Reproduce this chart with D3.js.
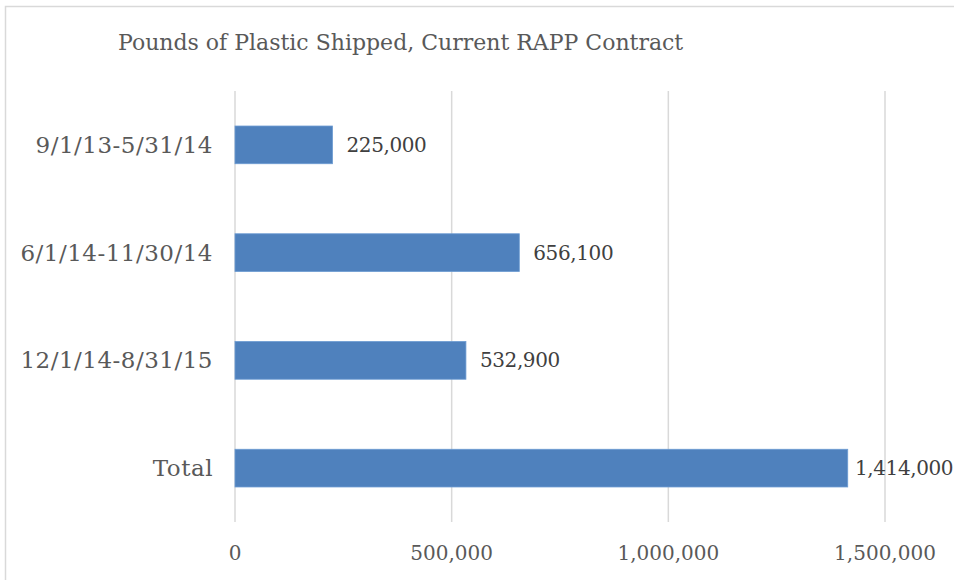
<!DOCTYPE html>
<html><head><meta charset="utf-8">
<script src="https://cdn.jsdelivr.net/npm/d3@7"></script>
<style>body{margin:0;background:#fff}svg{display:block}</style>
</head><body>
<svg id="c" width="954" height="580"></svg>
<script>
const categories = ["9/1/13-5/31/14", "6/1/14-11/30/14", "12/1/14-8/31/15", "Total"];
const values = [225000, 656100, 532900, 1414000];
const tickValues = [0, 500000, 1000000, 1500000];
const title = "Pounds of Plastic Shipped, Current RAPP Contract";

const svg = d3.select("#c");
const font = "'DejaVu Serif', serif";
const W = 954, H = 580;

// frame
svg.append("path").attr("d", `M5.5,${H}V6.5H${W}`).attr("fill","none").attr("stroke","#d9d9d9").attr("stroke-width",1.5);

const x = d3.scaleLinear().domain([0, 1500000]).range([235, 885]);
const y = d3.scaleBand().domain(categories).range([91, 522]).paddingInner(0.65).paddingOuter(0.325);

// gridlines
svg.append("g").selectAll("line").data(tickValues).join("line")
  .attr("x1", d => x(d)).attr("x2", d => x(d)).attr("y1", 91).attr("y2", 522)
  .attr("stroke", "#d9d9d9").attr("stroke-width", 1.5);

// bars
svg.append("g").selectAll("rect").data(values).join("rect")
  .attr("x", x(0)).attr("y", (d,i) => y(categories[i]))
  .attr("width", d => x(d) - x(0)).attr("height", y.bandwidth())
  .attr("fill", "#4f81bd").attr("stroke", "#6c9bd2").attr("stroke-width", 0.8);

const fmt = d3.format(",");

// category labels
svg.append("g").selectAll("text").data(categories).join("text")
  .attr("x", 213).attr("y", d => y(d) + y.bandwidth()/2)
  .attr("dy", "0.35em").attr("text-anchor", "end")
  .attr("font-family", font).attr("font-size", 23).attr("letter-spacing", 0.5).attr("fill", "#595959")
  .text(d => d);

// value labels
svg.append("g").selectAll("text").data(values).join("text")
  .attr("x", d => Math.min(x(d) + 14, x(d) + 7 + Math.max(0, 862 - x(d) - 14)))
  .attr("y", (d,i) => y(categories[i]) + y.bandwidth()/2)
  .attr("dy", "0.35em").attr("text-anchor", "start")
  .attr("font-family", font).attr("font-size", 20).attr("letter-spacing", -0.4).attr("fill", "#404040")
  .text(d => fmt(d));

// x tick labels
svg.append("g").selectAll("text").data(tickValues).join("text")
  .attr("x", d => x(d)).attr("y", 560).attr("text-anchor", "middle")
  .attr("font-family", font).attr("font-size", 20).attr("fill", "#595959")
  .text(d => fmt(d));

// title
svg.append("text").attr("x", 118).attr("y", 50)
  .attr("font-family", font).attr("font-size", 22).attr("fill", "#595959")
  .text(title);
</script>
</body></html>
